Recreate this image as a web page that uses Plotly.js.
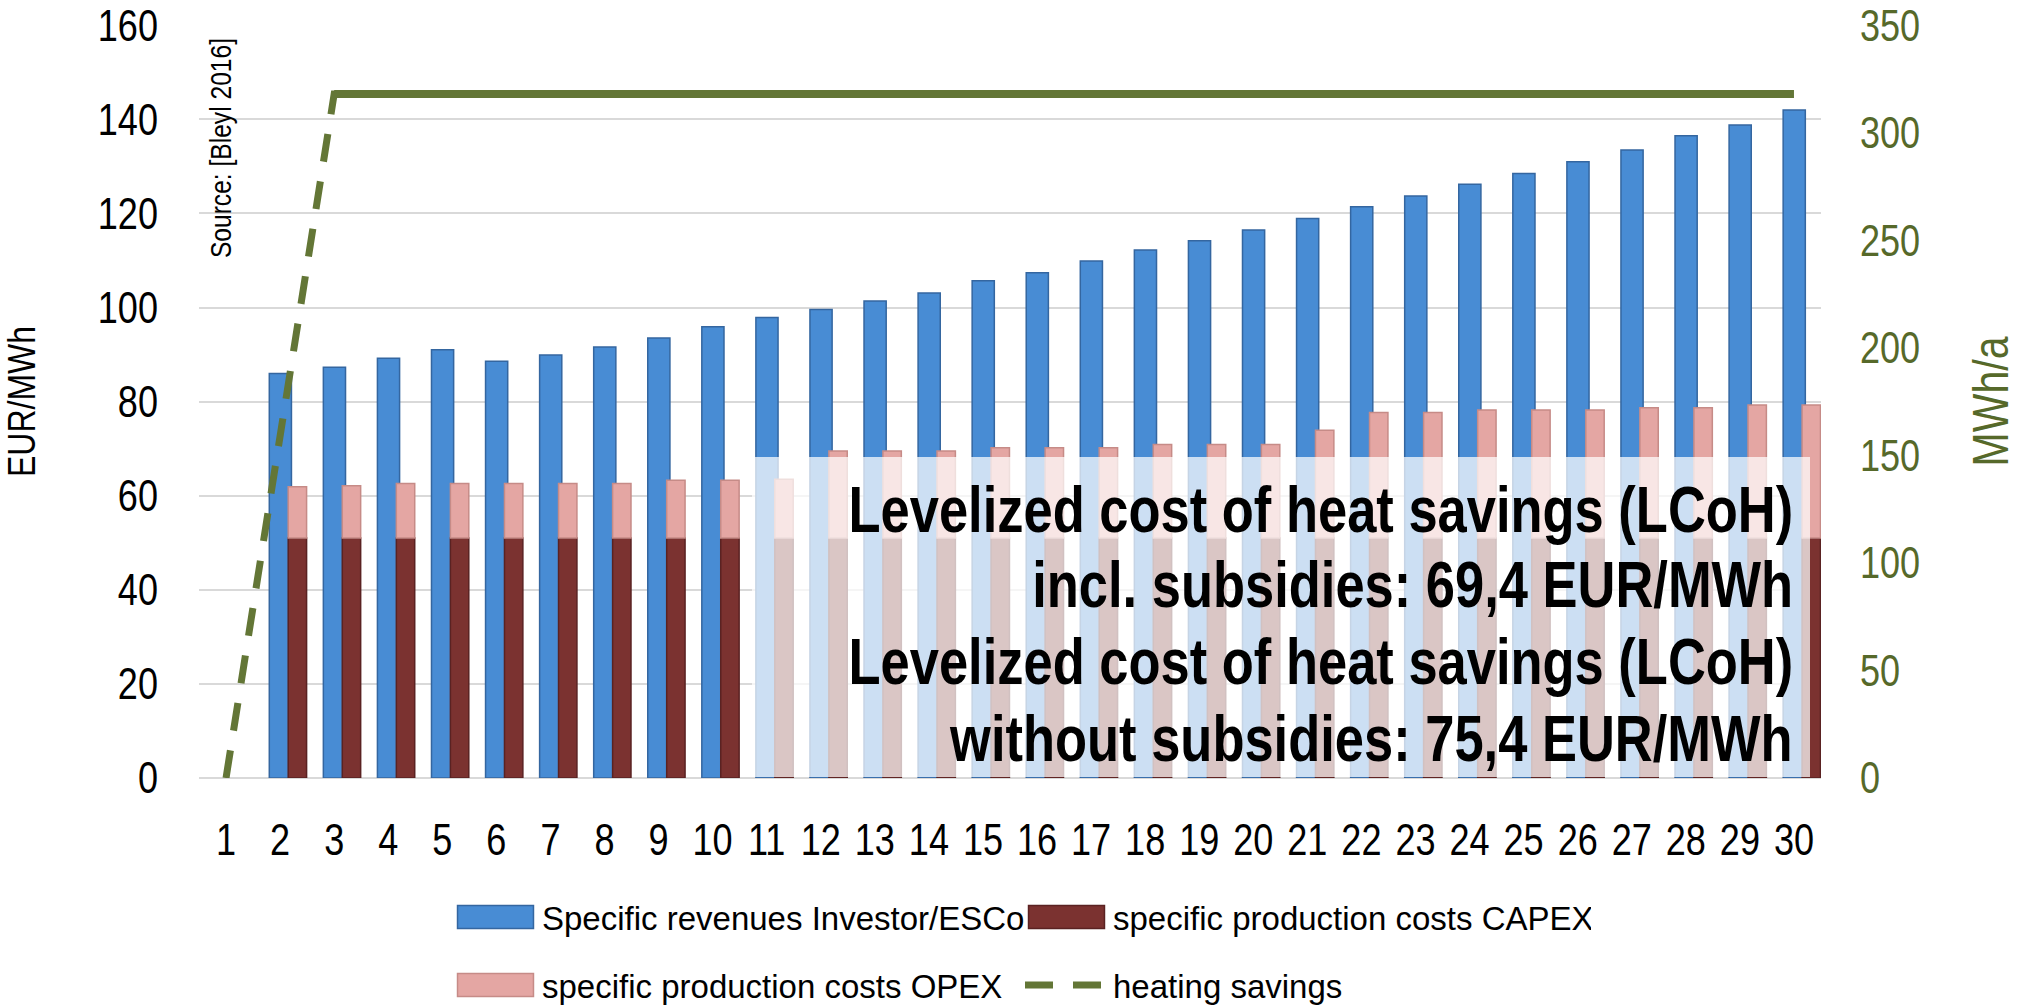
<!DOCTYPE html>
<html>
<head>
<meta charset="utf-8">
<script src="https://cdn.plot.ly/plotly-3.0.1.min.js"></script>
<style>
  html, body { margin: 0; padding: 0; background: #ffffff; }
  #chart { width: 2026px; height: 1007px; }
</style>
</head>
<body>
<div id="chart"></div>
<script>
// ---------- data ----------
var years = ['1','2','3','4','5','6','7','8','9','10','11','12','13','14','15','16','17','18','19','20','21','22','23','24','25','26','27','28','29','30'];

var revenues = [null, 86.0, 87.3, 89.2, 91.0, 88.6, 89.9, 91.6, 93.5, 95.9, 97.9, 99.6, 101.4, 103.1, 105.7, 107.4, 109.9, 112.2, 114.2, 116.5, 118.9, 121.4, 123.7, 126.2, 128.5, 131.0, 133.5, 136.5, 138.8, 142.0];

var capex = [null, 51, 51, 51, 51, 51, 51, 51, 51, 51, 51, 51, 51, 51, 51, 51, 51, 51, 51, 51, 51, 51, 51, 51, 51, 51, 51, 51, 51, 51];

var opex = [null, 10.9, 11.1, 11.6, 11.6, 11.6, 11.6, 11.6, 12.3, 12.3, 12.5, 18.5, 18.5, 18.5, 19.2, 19.2, 19.2, 19.9, 19.9, 19.9, 22.9, 26.7, 26.7, 27.2, 27.2, 27.2, 27.7, 27.7, 28.3, 28.3];

var heatingSavings = [0, 159, 318, 318, 318, 318, 318, 318, 318, 318, 318, 318, 318, 318, 318, 318, 318, 318, 318, 318, 318, 318, 318, 318, 318, 318, 318, 318, 318, 318];

var leftTicks = [0, 20, 40, 60, 80, 100, 120, 140, 160];
var rightTicks = [0, 50, 100, 150, 200, 250, 300, 350];

var boxLines = [
  'Levelized cost of heat savings (LCoH)',
  'incl. subsidies: 69,4 EUR/MWh',
  'Levelized cost of heat savings (LCoH)',
  'without subsidies: 75,4 EUR/MWh'
];

// ---------- styling ----------
var FONT = 'Liberation Sans, Arial, sans-serif';
var NARROW_SCALE = 0.82;   // emulate Arial Narrow
var GREEN = '#637636';
var GREEN_TXT = '#56692a';

var traces = [
  {
    type: 'bar', name: 'Specific revenues Investor/ESCo',
    x: years, y: revenues, width: 0.41, offset: -0.20,
    marker: { color: '#488cd4', line: { color: '#3466a0', width: 1.5 } },
    legend: 'legend'
  },
  {
    type: 'bar', name: 'specific production costs CAPEX',
    x: years, y: capex, width: 0.34, offset: 0.15,
    marker: { color: '#7b3230', line: { color: '#5a2222', width: 1.5 } },
    legend: 'legend'
  },
  {
    type: 'bar', name: 'specific production costs OPEX',
    x: years, y: opex, base: capex, width: 0.34, offset: 0.15,
    marker: { color: '#e4a6a3', line: { color: '#c68b87', width: 1.5 } },
    legend: 'legend2'
  },
  {
    type: 'scatter', mode: 'lines', name: 'heating savings',
    x: years, y: heatingSavings, yaxis: 'y2',
    line: { color: GREEN, width: 7, dash: '28px,20px' },
    legend: 'legend2'
  },
  {
    type: 'scatter', mode: 'lines', name: 'heating savings',
    x: years.slice(2), y: heatingSavings.slice(2), yaxis: 'y2',
    line: { color: GREEN, width: 8 },
    showlegend: false, hoverinfo: 'skip'
  }
];

// plot area in px: x 199..1821, y 25..778
var PL = 199, PR = 1821, PT = 25, PB = 778;
function px2x(p) { return (p - PL) / (PR - PL); }
function px2y(p) { return (PB - p) / (PB - PT); }

var annotations = [
  {
    text: 'Source: [Bleyl 2016]', textangle: -90, align: 'right',
    xref: 'paper', yref: 'paper', x: px2x(221), y: px2y(36),
    xanchor: 'center', yanchor: 'top', showarrow: false,
    font: { family: FONT, size: 30, color: '#000000' }
  }
];
var lineY = [510, 585, 662, 739];
for (var i = 0; i < boxLines.length; i++) {
  annotations.push({
    text: '<b>' + boxLines[i] + '</b>', align: 'right',
    xref: 'paper', yref: 'paper', x: px2x(1795), y: px2y(lineY[i]),
    xanchor: 'right', yanchor: 'middle', showarrow: false,
    font: { family: FONT, size: 64, color: '#000000' }
  });
}

var legendCommon = {
  orientation: 'h', xanchor: 'left', yanchor: 'middle',
  xref: 'paper', yref: 'paper',
  itemwidth: 83,
  entrywidth: 473, entrywidthmode: 'pixels',
  font: { family: FONT, size: 33, color: '#000000' },
  bgcolor: 'rgba(0,0,0,0)', traceorder: 'normal'
};
var legend1 = Object.assign({}, legendCommon, { x: px2x(449), y: px2y(917) });
var legend2 = Object.assign({}, legendCommon, { x: px2x(449), y: px2y(985) });

var layout = {
  width: 2026, height: 1007,
  margin: { l: PL, r: 2026 - PR, t: PT, b: 1007 - PB, pad: 0, autoexpand: false },
  paper_bgcolor: '#ffffff', plot_bgcolor: '#ffffff',
  barmode: 'overlay',
  showlegend: true,
  xaxis: {
    type: 'category', range: [-0.5, 29.5],
    tickvals: years, ticktext: years, automargin: false,
    showgrid: false, showline: false, zeroline: false, ticks: '',
    ticklabelstandoff: 32,
    tickfont: { family: FONT, size: 44, color: '#000000' }
  },
  yaxis: {
    range: [0, 160.05], tickvals: leftTicks, automargin: false,
    showgrid: true, gridcolor: '#d9d9d9', gridwidth: 2,
    zeroline: true, zerolinecolor: '#d9d9d9', zerolinewidth: 2,
    showline: false, ticks: '', ticklabelstandoff: 40,
    tickfont: { family: FONT, size: 44, color: '#000000' },
    title: { text: 'EUR/MWh', standoff: 46, font: { family: FONT, size: 39, color: '#000000' } }
  },
  yaxis2: {
    range: [0, 350.11], tickvals: rightTicks, automargin: false,
    overlaying: 'y', side: 'right',
    showgrid: false, zeroline: false, showline: false, ticks: '',
    ticklabelstandoff: 38,
    tickfont: { family: FONT, size: 44, color: GREEN_TXT },
    title: { text: 'MWh/a', standoff: 40, font: { family: FONT, size: 50, color: GREEN_TXT } }
  },
  legend: legend1,
  legend2: legend2,
  shapes: [
    {
      type: 'rect', xref: 'paper', yref: 'paper', layer: 'above',
      x0: px2x(752), x1: px2x(1810), y0: px2y(777), y1: px2y(457),
      fillcolor: 'rgba(255,255,255,0.72)', line: { width: 0 }
    }
  ],
  annotations: annotations
};

// horizontally condense a text element along its own reading direction
function condense(el, s) {
  var bb = el.getBBox();
  var anchor = el.getAttribute('text-anchor') || (el.style && el.style.textAnchor) || 'start';
  var ax = bb.x;
  if (anchor === 'end') ax = bb.x + bb.width;
  else if (anchor === 'middle') ax = bb.x + bb.width / 2;
  var ay = bb.y + bb.height / 2;
  var t = el.getAttribute('transform') || '';
  el.setAttribute('transform', t + ' translate(' + ax + ',' + ay + ') scale(' + s + ',1) translate(' + (-ax) + ',' + (-ay) + ')');
}

Plotly.newPlot('chart', traces, layout, { displayModeBar: false, responsive: false, staticPlot: true }).then(function (gd) {
  var sel = gd.querySelectorAll('.xtick text, .ytick text, .y2tick text, .ytitle, .y2title, .annotation-text');
  sel.forEach(function (el) { condense(el, NARROW_SCALE); });
  // enlarge bar legend swatches to wide rectangles
  gd.querySelectorAll('.legendpoints path').forEach(function (p) {
    var d = p.getAttribute('d') || '';
    if (/^M6,6H-6V-6H6Z$/.test(d)) {
      var t = p.getAttribute('transform') || '';
      p.setAttribute('transform', t + ' scale(6.33,1.92)');
      p.style.vectorEffect = 'non-scaling-stroke';
    }
  });
});
</script>
</body>
</html>
